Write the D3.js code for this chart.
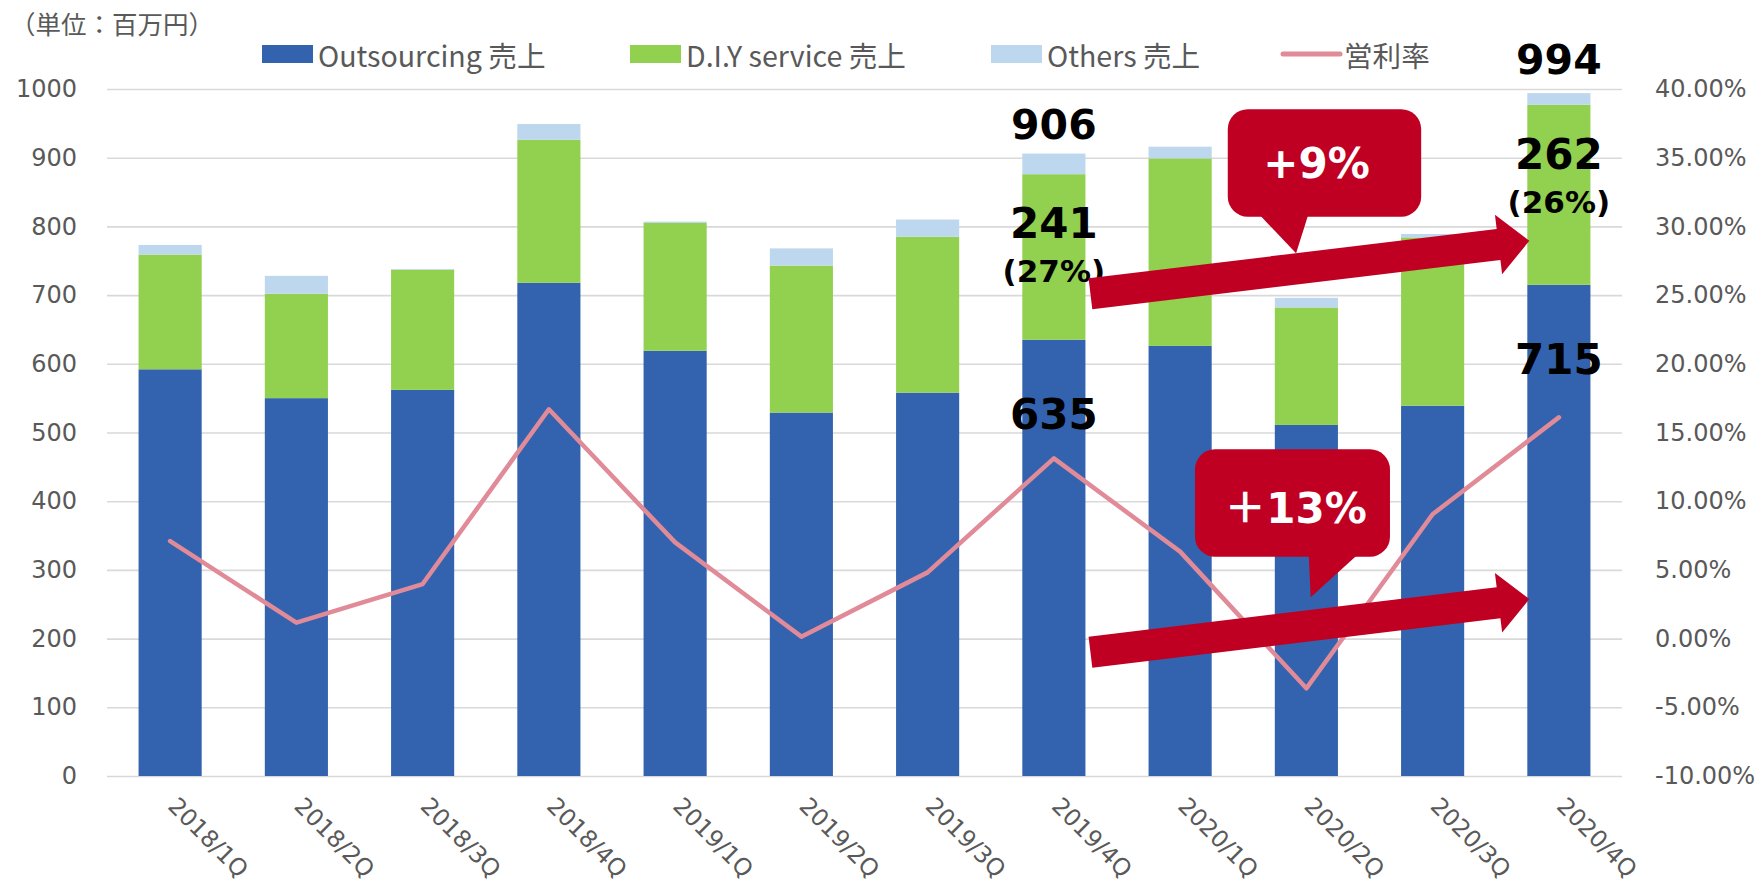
<!DOCTYPE html>
<html>
<head>
<meta charset="utf-8">
<script src="https://cdn.jsdelivr.net/npm/d3@7"></script>
<style>
  body { margin: 0; background: #fff; }
  svg { display: block; }
</style>
</head>
<body>
<div id="chart"></div>
<script>
// quarterly sales (million yen) + operating margin

const categories = ["2018/1Q", "2018/2Q", "2018/3Q", "2018/4Q", "2019/1Q", "2019/2Q",
                    "2019/3Q", "2019/4Q", "2020/1Q", "2020/2Q", "2020/3Q", "2020/4Q"];
const outsourcing = [592, 550, 562, 718, 619, 529, 558, 635, 626, 511, 539, 715];
const diyService  = [167, 152, 175, 208, 186, 214, 227, 241, 273, 171, 245, 262];
const others      = [14, 26, 1, 23, 2, 25, 25, 30, 17, 14, 5, 17];
const margin      = [7.10, 1.16, 3.97, 16.69, 7.00, 0.14, 4.82, 13.12, 6.33, -3.62, 9.05, 16.10];

const leftTicks  = [0, 100, 200, 300, 400, 500, 600, 700, 800, 900, 1000];
const rightTicks = [-10, -5, 0, 5, 10, 15, 20, 25, 30, 35, 40];

const seriesNames = ["Outsourcing 売上", "D.I.Y service 売上", "Others 売上", "営利率"];
const colors = ["#3363AF", "#92D050", "#BDD7EE", "#E18A98"];
const red = "#C00023";

const width = 1763;
const height = 889;
const plot = { left: 107, right: 1622, top: 89, bottom: 776 };

const svg = d3.select("#chart")
    .append("svg")
    .attr("width", width)
    .attr("height", height);

svg.append("rect").attr("width", width).attr("height", height).attr("fill", "#fff");

const x = d3.scaleBand()
    .domain(categories)
    .range([plot.left, plot.right])
    .paddingInner(0.5)
    .paddingOuter(0.25);

const yL = d3.scaleLinear().domain([0, 1000]).range([plot.bottom, plot.top]);
const yR = d3.scaleLinear().domain([-10, 40]).range([plot.bottom, plot.top]);

const axisFont = "'DejaVu Sans', sans-serif";
const cjkFont = "'Noto Sans CJK JP', 'Noto Sans', sans-serif";
const boldFont = "'DejaVu Sans', 'Noto Sans CJK JP', sans-serif";

// left axis with gridlines
const gLeft = svg.append("g")
    .attr("transform", `translate(${plot.left},0)`)
    .call(d3.axisLeft(yL).tickValues(leftTicks).tickFormat(d3.format("d"))
        .tickSize(-(plot.right - plot.left)).tickPadding(30));
gLeft.select(".domain").remove();
gLeft.selectAll(".tick line").attr("stroke", "#D9D9D9").attr("stroke-width", 1.6);
gLeft.selectAll(".tick text")
    .attr("fill", "#595959")
    .style("font-family", axisFont)
    .style("font-size", "24px");

// right axis
const gRight = svg.append("g")
    .attr("transform", `translate(${plot.right},0)`)
    .call(d3.axisRight(yR).tickValues(rightTicks).tickSize(0).tickPadding(33)
        .tickFormat(d => d.toFixed(2) + "%"));
gRight.select(".domain").remove();
gRight.selectAll(".tick text")
    .attr("fill", "#595959")
    .style("font-family", axisFont)
    .style("font-size", "24px");

// stacked bars
const rows = categories.map((c, i) => ({
    cat: c, outsourcing: outsourcing[i], diy: diyService[i], others: others[i]
}));
const stack = d3.stack().keys(["outsourcing", "diy", "others"])(rows);

svg.append("g")
    .selectAll("g")
    .data(stack)
    .enter()
    .append("g")
    .attr("fill", (d, i) => colors[i])
    .selectAll("rect")
    .data(d => d)
    .enter()
    .append("rect")
    .attr("x", d => x(d.data.cat))
    .attr("y", d => yL(d[1]))
    .attr("width", x.bandwidth())
    .attr("height", d => yL(d[0]) - yL(d[1]));

// x axis labels
const gX = svg.append("g")
    .attr("transform", `translate(0,${plot.bottom})`)
    .call(d3.axisBottom(x).tickSize(0).tickPadding(0));
gX.select(".domain").remove();
gX.selectAll(".tick text")
    .attr("fill", "#595959")
    .style("font-family", axisFont)
    .style("font-size", "23.5px")
    .attr("text-anchor", "start")
    .attr("dy", null)
    .attr("dominant-baseline", "hanging")
    .attr("transform", "translate(9,19) rotate(45)");

// margin line
const line = d3.line()
    .x((d, i) => x(categories[i]) + x.bandwidth() / 2)
    .y(d => yR(d));

svg.append("path")
    .datum(margin)
    .attr("d", line)
    .attr("fill", "none")
    .attr("stroke", colors[3])
    .attr("stroke-width", 4.5)
    .attr("stroke-linejoin", "round")
    .attr("stroke-linecap", "round");

// value labels
const cx = c => x(c) + x.bandwidth() / 2;
const i19 = categories.indexOf("2019/4Q");
const i20 = categories.indexOf("2020/4Q");

function label(txt, xPos, yPos, size) {
    svg.append("text")
        .attr("x", xPos)
        .attr("y", yPos)
        .attr("text-anchor", "middle")
        .attr("fill", "#000")
        .style("font-family", boldFont)
        .style("font-weight", "bold")
        .style("font-size", size + "px")
        .text(txt);
}

[i19, i20].forEach(i => {
    const c = categories[i];
    const total = outsourcing[i] + diyService[i] + others[i];
    const share = Math.round(diyService[i] / total * 100);
    const greenTop = yL(outsourcing[i] + diyService[i]);
    label(total, cx(c), yL(total) - (i === i20 ? 19 : 15), 41);
    label(diyService[i], cx(c), greenTop + 64, 42);
    label("(" + share + "%)", cx(c), greenTop + 108, 31);
    label(outsourcing[i], cx(c), yL(outsourcing[i]) + 89, 42);
});

// growth arrows
function arrow(x1, y1, x2, y2) {
    const dx = x2 - x1, dy = y2 - y1;
    const len = Math.hypot(dx, dy);
    const ux = dx / len, uy = dy / len;
    const nx = -uy, ny = ux;
    const sw = 15.6, hw = 30, hl = 31;
    const bx = x2 - ux * hl, by = y2 - uy * hl;
    const pts = [
        [x1 + nx * sw, y1 + ny * sw],
        [bx + nx * sw, by + ny * sw],
        [bx + nx * hw, by + ny * hw],
        [x2, y2],
        [bx - nx * hw, by - ny * hw],
        [bx - nx * sw, by - ny * sw],
        [x1 - nx * sw, y1 - ny * sw]
    ];
    svg.append("polygon")
        .attr("points", pts.map(p => p.join(",")).join(" "))
        .attr("fill", red);
}

const arrowStart = x(categories[i19]) + x.bandwidth() + 5;
const arrowEnd = x(categories[i20]) + 2;
arrow(arrowStart, yL(702), arrowEnd, yL(779));
arrow(arrowStart, yL(180), arrowEnd, yL(257.5));

// callouts
function callout(txt, left, top, w, h, tail, dx, dy) {
    const g = svg.append("g");
    g.append("rect")
        .attr("x", left).attr("y", top)
        .attr("width", w).attr("height", h)
        .attr("rx", 20).attr("ry", 20)
        .attr("fill", red);
    g.append("polygon")
        .attr("points", tail.map(p => p.join(",")).join(" "))
        .attr("fill", red);
    g.append("text")
        .attr("x", left + w / 2 + dx)
        .attr("y", top + h / 2 + dy)
        .attr("text-anchor", "middle")
        .attr("fill", "#fff")
        .style("font-family", boldFont)
        .style("font-weight", "bold")
        .style("font-size", "42px")
        .text(txt);
}

const c2Q = cx("2020/2Q");
const t1 = yL(970.5);
callout("+9%", c2Q - 78.6, t1, 193.4, 107.4,
    [[c2Q - 46.4, t1 + 106], [c2Q + 1.7, t1 + 106], [c2Q - 10.3, t1 + 144]], -8, 15);
const t2 = yL(475.5);
callout("＋13%", c2Q - 111.4, t2, 195, 107.4,
    [[c2Q + 2.4, t2 + 106], [c2Q + 50.6, t2 + 106], [c2Q + 4.3, t2 + 148]], 3, 20);

// unit note
svg.append("text")
    .attr("x", 10)
    .attr("y", 34)
    .attr("fill", "#595959")
    .style("font-family", cjkFont)
    .style("font-size", "25.5px")
    .text("（単位：百万円）");

// legend
const legendX = [262, 630, 991, 1283];
const legendY = 54;
const legend = svg.append("g");
seriesNames.forEach((name, i) => {
    const g = legend.append("g").attr("transform", `translate(${legendX[i]},${legendY})`);
    if (i < 3) {
        g.append("rect").attr("x", 0).attr("y", -9).attr("width", 51).attr("height", 18).attr("fill", colors[i]);
    } else {
        g.append("line").attr("x1", 0).attr("x2", 57).attr("y1", 0).attr("y2", 0)
            .attr("stroke", colors[i]).attr("stroke-width", 5).attr("stroke-linecap", "round");
    }
    g.append("text")
        .attr("x", i < 3 ? 56 : 61)
        .attr("y", 0)
        .attr("dominant-baseline", "central")
        .attr("fill", "#595959")
        .style("font-family", cjkFont)
        .style("font-size", "28.6px")
        .text(name);
});
</script>
</body>
</html>
